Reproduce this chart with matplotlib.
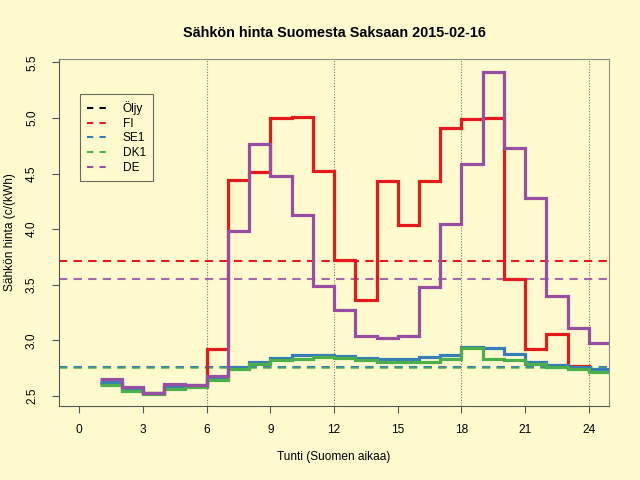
import numpy as np
import matplotlib
matplotlib.use('Agg')
import matplotlib.pyplot as plt
from matplotlib.lines import Line2D

plt.rcParams['font.family'] = ['Liberation Sans', 'DejaVu Sans']

# Hour edges (each price holds from hour h to h+1)
hours = np.arange(1, 26)

fi = [2.62, 2.56, 2.53, 2.58, 2.59, 2.92, 4.44, 4.51, 5.00, 5.01, 4.52, 3.72,
      3.36, 4.43, 4.04, 4.43, 4.91, 4.99, 5.00, 3.55, 2.92, 3.06, 2.77, 2.73]
se1 = [2.63, 2.56, 2.53, 2.59, 2.60, 2.66, 2.76, 2.81, 2.84, 2.87, 2.87, 2.86,
       2.84, 2.83, 2.83, 2.85, 2.87, 2.94, 2.93, 2.88, 2.81, 2.78, 2.76, 2.74]
dk1 = [2.60, 2.55, 2.52, 2.56, 2.58, 2.64, 2.74, 2.79, 2.82, 2.83, 2.85, 2.84,
       2.82, 2.81, 2.81, 2.81, 2.83, 2.93, 2.83, 2.82, 2.79, 2.76, 2.74, 2.72]
de = [2.65, 2.58, 2.53, 2.61, 2.60, 2.68, 3.98, 4.77, 4.48, 4.13, 3.49, 3.27,
      3.04, 3.02, 3.04, 3.48, 4.05, 4.59, 5.41, 4.73, 4.28, 3.40, 3.11, 2.98]

# Daily averages (dashed lines)
mean_fi = 3.713
mean_se1 = 2.765
mean_dk1 = 2.755
mean_de = 3.551

names = ['Öljy', 'FI', 'SE1', 'DK1', 'DE']
colors = ['black', '#E41A1C', '#377EB8', '#4DAF4A', '#984EA3']

bg = '#FFFBCE'
fig = plt.figure(figsize=(6.4, 4.8), dpi=100, facecolor=bg)
ax = fig.add_axes([0.092, 0.154, 0.86, 0.723], facecolor=bg)

for xv in [6, 12, 18, 24]:
    ax.axvline(xv, color='#777777', linestyle=(0, (1, 1.5)), linewidth=0.8, zorder=1)

ax.axhline(mean_fi, color=colors[1], linestyle=(0, (4, 3)), linewidth=1.5, zorder=2)
ax.axhline(mean_de, color=colors[4], linestyle=(0, (4, 3)), linewidth=1.5, alpha=0.85, zorder=2)
ax.axhline(mean_se1, color=colors[2], linestyle=(0, (4, 3)), linewidth=1.5, zorder=2)
ax.axhline(mean_dk1, color=colors[3], linestyle=(0, (4, 3)), linewidth=1.5, alpha=0.7, zorder=2)

ax.stairs(fi, hours, baseline=None, color=colors[1], linewidth=2.3, zorder=3)
ax.stairs(se1, hours, baseline=None, color=colors[2], linewidth=2.3, zorder=3)
ax.stairs(dk1, hours, baseline=None, color=colors[3], linewidth=2.3, zorder=3)
ax.stairs(de, hours, baseline=None, color=colors[4], linewidth=2.3, zorder=3)

ax.set_xlim(-0.96, 24.96)
ax.set_ylim(2.41, 5.53)
ax.set_xticks(range(0, 25, 3))
ax.set_yticks([2.5, 3.0, 3.5, 4.0, 4.5, 5.0, 5.5])
ax.tick_params(labelsize=8.6, length=5, color='#555555')
ax.tick_params(axis='x', pad=8)
ax.tick_params(axis='y', pad=10)
for lab in ax.get_yticklabels():
    lab.set_rotation(90)
    lab.set_va('center')
for side in ['top', 'right']:
    ax.spines[side].set_color('#888888')
for side in ['left', 'bottom']:
    ax.spines[side].set_color('#555555')

ax.set_xlabel('Tunti (Suomen aikaa)', fontsize=8.6, labelpad=11)
ax.set_ylabel('Sähkön hinta (c/(kWh)', fontsize=8.6)
ax.yaxis.set_label_coords(-0.078, 0.5)
ax.set_title('Sähkön hinta Suomesta Saksaan 2015-02-16', fontsize=10.4,
             fontweight='bold', pad=16)

handles = [Line2D([], [], color=c, linestyle=(0, (3, 3)), linewidth=1.5) for c in colors]
leg = ax.legend(handles, names, loc='upper left', bbox_to_anchor=(0.038, 0.899),
                borderaxespad=0, fontsize=8.6, frameon=True, fancybox=False,
                facecolor=bg, edgecolor='#444444', handlelength=2.0, borderpad=0.6,
                labelspacing=0.22, handletextpad=1.0)
leg.get_frame().set_linewidth(0.8)

fig.savefig('out.png', dpi=100, facecolor=bg)
